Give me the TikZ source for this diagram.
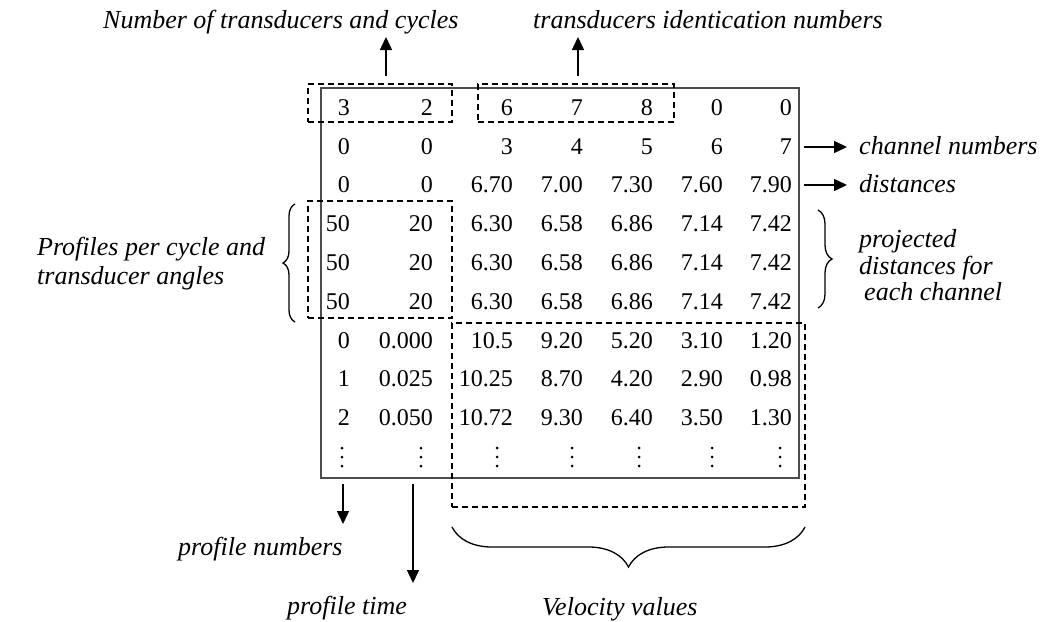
\documentclass[tikz,border=0pt]{standalone}
\usepackage{fontspec}
\setmainfont{Liberation Serif}
\usetikzlibrary{arrows.meta,decorations.pathreplacing}
\newcommand\tabrow[3]{%
  \foreach \v [count=\c] in {#3}{%
    \pgfmathsetmacro\xx{{350,433,513,583,653,723,792}[\c-1]}%
    \node[tab] (r#1c\c) at (\xx,#2) {\v};}}
\begin{document}
\begin{tikzpicture}[x=1pt,y=-1pt,
  tab/.style={font=\fontsize{24}{28}\selectfont, inner sep=0pt, anchor=base east},
  lab/.style={font=\fontsize{26}{30}\selectfont\itshape, inner sep=0pt, anchor=base west},
  frame/.style={draw=black!70, line width=1.3pt, inner sep=0pt},
  dbox/.style={draw=black, line width=1.2pt, dash pattern=on 6pt off 4pt, inner sep=0pt},
  arr/.style={line width=1.5pt, -{Triangle[length=13pt,width=12pt]}},
  brc/.style={line width=1.3pt, decorate, decoration={brace, amplitude=#1}},
  vdot/.style={fill=black, circle, inner sep=0pt, minimum size=3pt}
]
\useasboundingbox (0,0) rectangle (1040,621);

% main frame and dashed groups
\node[frame, minimum width=478pt, minimum height=390pt] (frame) at (560,283) {};
\node[dbox, minimum width=144pt, minimum height=38pt] (boxA) at (380,103) {};
\node[dbox, minimum width=196pt, minimum height=38pt] (boxB) at (576,103) {};
\node[dbox, minimum width=144pt, minimum height=117pt] (boxC) at (380,259.5) {};
\node[dbox, minimum width=353pt, minimum height=184pt] (boxD) at (628.5,415) {};

% table
\tabrow{1}{115}{3,2,6,7,8,0,0}
\tabrow{2}{154}{0,0,3,4,5,6,7}
\tabrow{3}{192}{0,0,6.70,7.00,7.30,7.60,7.90}
\tabrow{4}{231}{50,20,6.30,6.58,6.86,7.14,7.42}
\tabrow{5}{270}{50,20,6.30,6.58,6.86,7.14,7.42}
\tabrow{6}{309}{50,20,6.30,6.58,6.86,7.14,7.42}
\tabrow{7}{348}{0,0.000,10.5,9.20,5.20,3.10,1.20}
\tabrow{8}{386}{1,0.025,10.25,8.70,4.20,2.90,0.98}
\tabrow{9}{425}{2,0.050,10.72,9.30,6.40,3.50,1.30}
\foreach \x [count=\c] in {342,421,497,572,639,712,780}{
  \node[vdot] (r10c\c a) at (\x,448) {};
  \node[vdot] (r10c\c b) at (\x,457) {};
  \node[vdot] (r10c\c c) at (\x,466) {};}

% labels
\node[lab] (tNum) at (103,28) {Number of transducers and cycles};
\node[lab] (tIds) at (533,28) {transducers identication numbers};
\node[lab] (lCh) at (859,154) {channel numbers};
\node[lab] (lDist) at (859,192) {distances};
\node[lab] (lP1) at (859,247) {projected};
\node[lab] (lP2) at (859,274) {distances for};
\node[lab] (lP3) at (864,300) {each channel};
\node[lab] (lL1) at (37,255) {Profiles per cycle and};
\node[lab] (lL2) at (37,284) {transducer angles};
\node[lab] (lPn) at (178,555) {profile numbers};
\node[lab] (lPt) at (287,614) {profile time};
\node[lab] (lVel) at (542,615) {Velocity values};

% arrows
\coordinate (a1s) at (386,76);  \coordinate (a1e) at (386,37);
\coordinate (a2s) at (578,76);  \coordinate (a2e) at (578,37);
\coordinate (a3s) at (804,147); \coordinate (a3e) at (847,147);
\coordinate (a4s) at (804,185); \coordinate (a4e) at (847,185);
\coordinate (a5s) at (343,484); \coordinate (a5e) at (343,524);
\coordinate (a6s) at (413,484); \coordinate (a6e) at (413,583);
\draw[arr] (a1s) -- (a1e);
\draw[arr] (a2s) -- (a2e);
\draw[arr] (a3s) -- (a3e);
\draw[arr] (a4s) -- (a4e);
\draw[arr] (a5s) -- (a5e);
\draw[arr] (a6s) -- (a6e);

% braces
\draw[brc=12pt] (295,322) -- (295,204);
\draw[brc=14pt] (818,210) -- (818,308);
\draw[brc=40pt] (805,527) -- (452,527);
\end{tikzpicture}
\end{document}
